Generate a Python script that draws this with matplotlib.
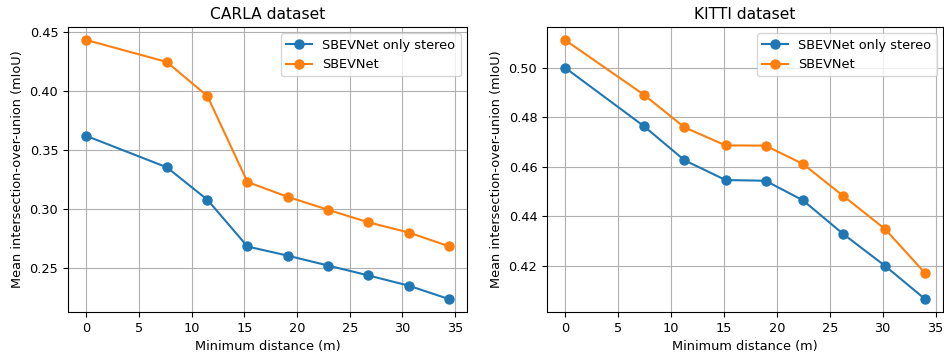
import matplotlib
matplotlib.use('Agg')
import matplotlib.pyplot as plt

# CARLA dataset
carla_dist = [0, 7.65, 11.5, 15.3, 19.1, 22.95, 26.7, 30.6, 34.4]
carla_stereo = [0.3619, 0.3353, 0.3079, 0.2684, 0.2607, 0.2523, 0.2441, 0.2353, 0.2240]
carla_full = [0.4429, 0.4243, 0.3955, 0.3229, 0.3104, 0.2994, 0.2890, 0.2802, 0.2686]

# KITTI dataset
kitti_dist = [0, 7.44, 11.28, 15.16, 18.94, 22.47, 26.3, 30.2, 34.0]
kitti_stereo = [0.5000, 0.4764, 0.4626, 0.4546, 0.4543, 0.4464, 0.4327, 0.4200, 0.4065]
kitti_full = [0.5112, 0.4891, 0.4759, 0.4686, 0.4685, 0.4611, 0.4481, 0.4349, 0.4170]

labels = ['SBEVNet only stereo', 'SBEVNet']

plt.rcParams['font.size'] = 9.3

W, H = 945, 356
fig = plt.figure(figsize=(W / 100, H / 100), dpi=100)
# axes boxes in pixels: left, top, right, bottom
ax_left = fig.add_axes([68 / W, (H - 312) / H, (467 - 68) / W, (312 - 27) / H])
ax_right = fig.add_axes([547 / W, (H - 312) / H, (943 - 547) / W, (312 - 27) / H])

panels = [
    (ax_left, 'CARLA dataset', carla_dist, carla_stereo, carla_full),
    (ax_right, 'KITTI dataset', kitti_dist, kitti_stereo, kitti_full),
]
for ax, title, dist, stereo, full in panels:
    ax.plot(dist, stereo, marker='o', markersize=6.5, label=labels[0])
    ax.plot(dist, full, marker='o', markersize=6.5, label=labels[1])
    ax.set_title(title)
    ax.set_xlabel('Minimum distance (m)')
    ax.set_ylabel('Mean intersection-over-union (mIoU)')
    ax.grid(True)
    ax.legend(loc='upper right')

plt.savefig('out.png', dpi=100)
